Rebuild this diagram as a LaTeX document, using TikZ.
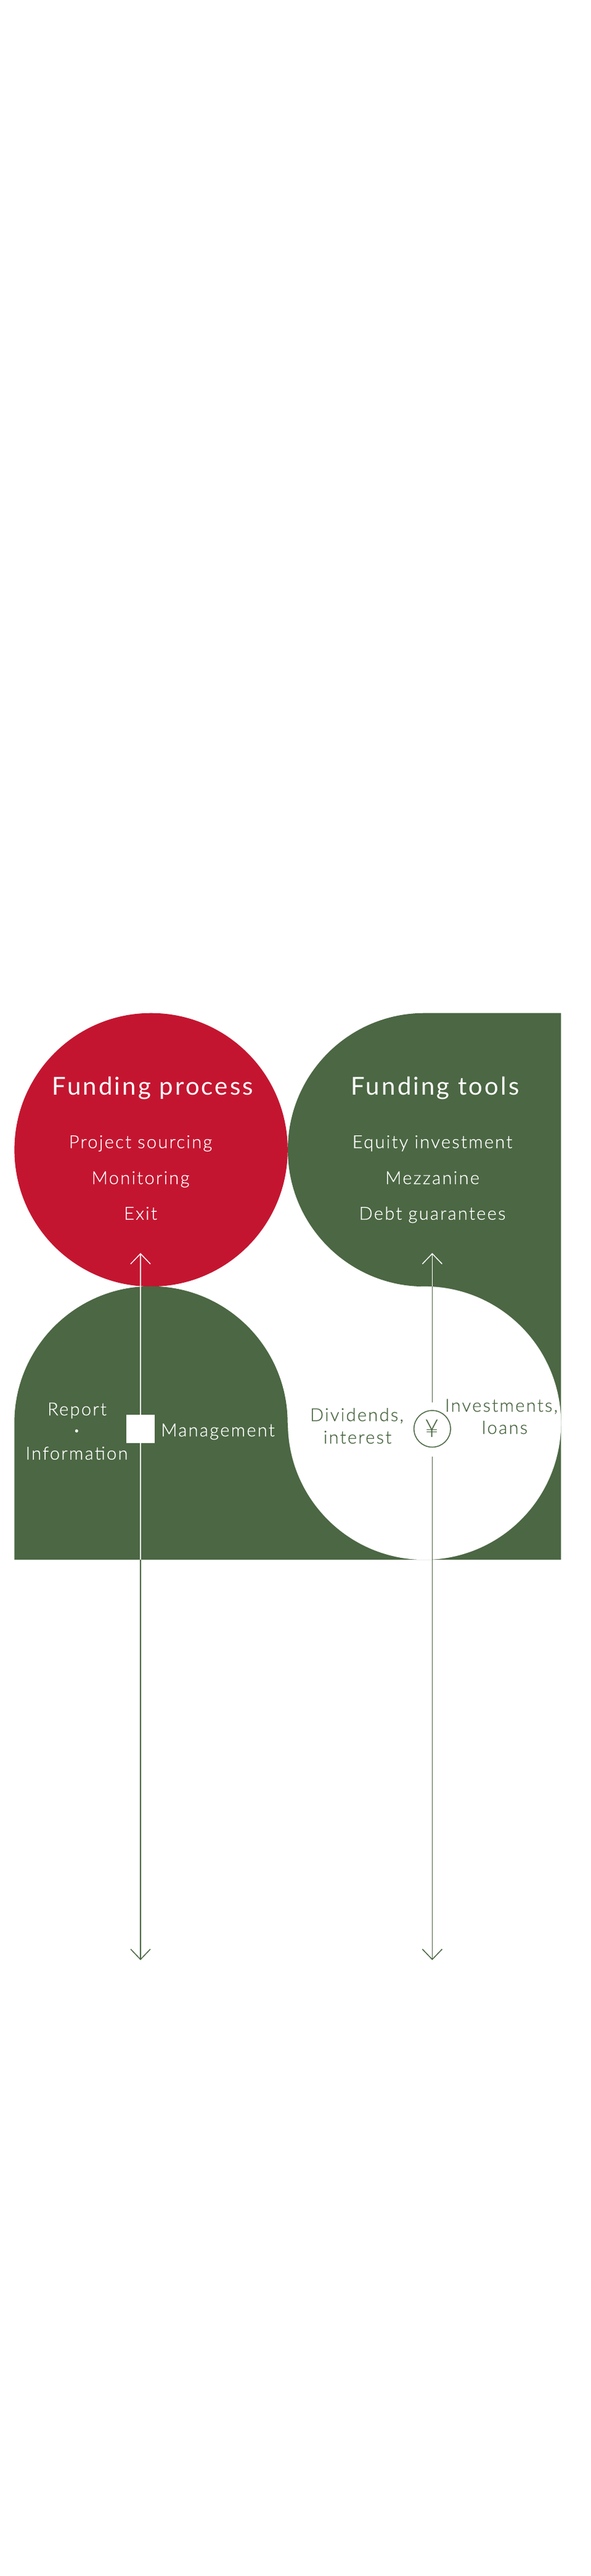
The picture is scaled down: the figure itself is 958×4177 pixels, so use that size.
\documentclass[tikz,border=0pt]{standalone}
\usepackage{fontspec}
\usetikzlibrary{arrows.meta}
\setmainfont{Lato Light}
\newfontfamily\bodyfont[LetterSpace=8,FakeBold=0.4]{Lato Light}
\newfontfamily\yenfont{Lato Light}
\newfontfamily\headfont[LetterSpace=8]{Lato}
\definecolor{fgreen}{HTML}{4B6743}
\definecolor{fred}{HTML}{C41530}
\tikzset{
  head/.style={text=white,font=\headfont\fontsize{40}{48}\selectfont,anchor=base,inner sep=0pt},
  item/.style={text=white,font=\bodyfont\fontsize{29}{36}\selectfont,anchor=base,inner sep=0pt},
  gitem/.style={item,text=fgreen},
  flow/.style={line width=1.5pt},
  tipped/.style={flow,-{Straight Barb[length=16.7pt,width=32pt,line width=1.5pt]}},
}
\begin{document}
\begin{tikzpicture}[x=1pt,y=-1pt]
\useasboundingbox (0,0) rectangle (958,4177);
\fill[white] (0,0) rectangle (958,4177);
% shapes
\fill[fred] (245.1,1864.4) circle [radius=221.7];
\fill[fgreen] (467,1864.4) arc[start angle=180,end angle=270,radius=221.7] -- (910.4,1642.7) -- (910.4,2529) -- (688.7,2529) -- (688.7,2086.1) arc[start angle=90,end angle=180,radius=221.7] -- cycle;
\fill[fgreen] (23.3,2529) -- (23.3,2307.4) arc[start angle=180,end angle=360,radius=221.7] -- (688.7,2307.4) -- (688.7,2529) -- cycle;
\fill[white] (688.7,2307.5) circle [radius=221.6];
% coordinates and nodes
\coordinate (lt) at (228,2031.7);
\coordinate (lm) at (228,2529);
\coordinate (lb) at (228,3178.3);
\coordinate (rt) at (701.4,2031.7);
\coordinate (rm) at (701.4,2086.1);
\coordinate (ra) at (701.4,2274);
\coordinate (rc) at (701.4,2361.7);
\coordinate (rb) at (701.4,3178.3);
\draw[flow,white] (lm) -- (228,2294);
\draw[tipped,white] (228,2294) -- (lt);
\draw[tipped,fgreen] (lm) -- (lb);
\draw[tipped,white] (rm) -- (rt);
\draw[flow,fgreen] (rm) -- (ra);
\draw[tipped,fgreen] (rc) -- (rb);
\node[fill=white,minimum size=46pt,inner sep=0pt] (sq) at (228,2317) {};
\node[circle,draw=fgreen,line width=1.5pt,minimum size=59.4pt,inner sep=0pt,text=fgreen,font=\yenfont\fontsize{40}{40}\selectfont] (yen) at (701.4,2316.8) {¥};
% texts
\node[head] (h1) at (248,1775) {Funding process};
\node[head] (h2) at (706,1775) {Funding tools};
\node[item] (a1) at (228,1861.7) {Project sourcing};
\node[item] (a2) at (228,1920) {Monitoring};
\node[item] (a3) at (228,1977.7) {Exit};
\node[item] (b1) at (701.5,1861.7) {Equity investment};
\node[item] (b2) at (701.5,1920) {Mezzanine};
\node[item] (b3) at (701.5,1977.7) {Debt guarantees};
\node[item] (r1) at (125,2295) {Report};
\node[item,font=\bodyfont\fontsize{16}{16}\selectfont] (r2) at (124.3,2325) {•};
\node[item] (r3) at (124.5,2366.7) {Information};
\node[item] (m) at (353.5,2329) {Management};
\node[gitem] (d1) at (579,2304.3) {Dividends,};
\node[gitem] (d2) at (580,2340.7) {interest};
\node[gitem] (i1) at (813.5,2289) {Investments,};
\node[gitem] (i2) at (819,2325) {loans};
\end{tikzpicture}
\end{document}
